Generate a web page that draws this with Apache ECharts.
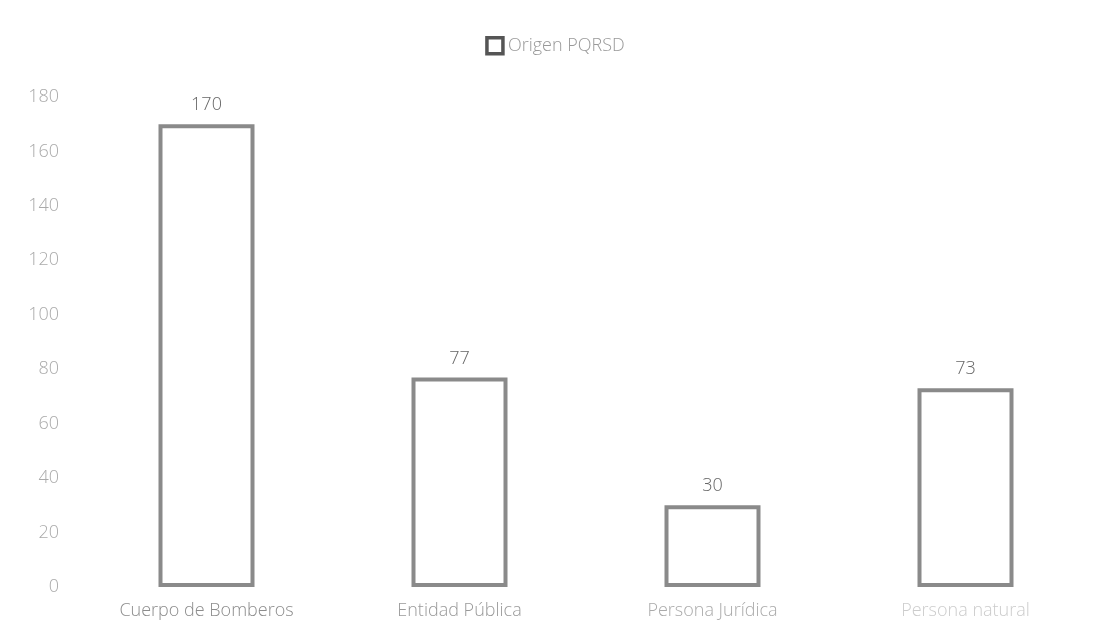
<!DOCTYPE html>
<html><head><meta charset="utf-8">
<script src="https://cdn.jsdelivr.net/npm/echarts@6/dist/echarts.min.js"></script>
<style>html,body{margin:0;padding:0;background:#fff}#c{width:1110px;height:640px}</style>
</head><body><div id="c"></div>
<script>
const categories = ['Cuerpo de Bomberos', 'Entidad Pública', 'Persona Jurídica', 'Persona natural'];
const values = [170, 77, 30, 73];
const seriesName = 'Origen PQRSD';
const xLabelColors = ['#8c8c8c', '#999999', '#aaaaaa', '#cccccc'];

const chart = echarts.init(document.getElementById('c'));
chart.setOption({
  backgroundColor: '#ffffff',
  textStyle: { fontFamily: 'Open Sans' },
  legend: {
    top: 31, left: 'center',
    itemWidth: 16, itemHeight: 16, itemGap: 4,
    icon: 'rect',
    textStyle: { color: '#999', fontSize: 18, fontFamily: 'Open Sans', fontWeight: 300 },
    data: [{ name: seriesName, itemStyle: { color: '#fff', borderColor: '#555', borderWidth: 3.5 } }]
  },
  grid: { left: 80, right: 18, top: 97, bottom: 53, containLabel: false },
  xAxis: {
    type: 'category', data: categories,
    axisLine: { show: false }, axisTick: { show: false },
    axisLabel: {
      margin: 15, fontSize: 18, fontFamily: 'Open Sans', fontWeight: 300,
      color: function (v, i) { return xLabelColors[i]; }
    }
  },
  yAxis: {
    type: 'value', min: 0, max: 180, interval: 20,
    axisLine: { show: false }, axisTick: { show: false }, splitLine: { show: false },
    axisLabel: { margin: 21, fontSize: 18, color: '#aaa', fontFamily: 'Open Sans', fontWeight: 300 }
  },
  series: [{
    name: seriesName, type: 'bar', data: values, barWidth: 96,
    itemStyle: { color: '#ffffff', borderColor: '#8a8a8a', borderWidth: 4 },
    label: { show: true, position: 'top', distance: 10, fontSize: 18, color: '#666', fontFamily: 'Open Sans', fontWeight: 300 }
  }]
});
</script></body></html>
